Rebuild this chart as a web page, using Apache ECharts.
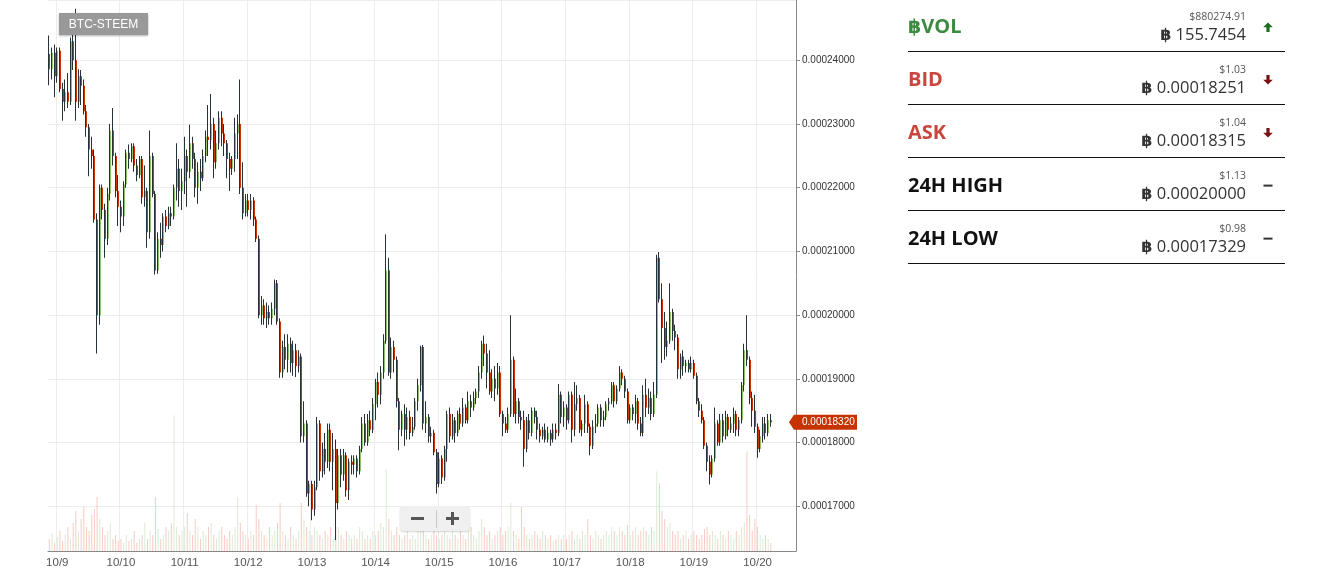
<!DOCTYPE html>
<html>
<head>
<meta charset="utf-8">
<script src="https://cdn.jsdelivr.net/npm/echarts@6/dist/echarts.min.js"></script>
<style>
html,body{margin:0;padding:0;background:#fff;width:1330px;height:570px;overflow:hidden;font-family:'Open Sans',sans-serif;}
#chart{position:absolute;left:0;top:0;width:1330px;height:570px;}
.pair{position:absolute;left:59px;top:13px;width:89px;height:22px;background:#999;color:#fff;font:12px 'Liberation Sans',Arial,sans-serif;line-height:22px;text-align:center;box-shadow:0 1px 2px rgba(0,0,0,0.3);}
.zoom{position:absolute;left:400px;top:506px;width:70px;height:25px;background:#f0f0f0;border-radius:4px;box-shadow:0 1px 2px rgba(0,0,0,0.18);}
.zoom .m{position:absolute;left:11px;top:11px;width:13px;height:3px;background:#555;}
.zoom .p1{position:absolute;left:46px;top:11px;width:13px;height:3px;background:#555;}
.zoom .p2{position:absolute;left:51px;top:6px;width:3px;height:13px;background:#555;}
.zoom .d{position:absolute;left:36px;top:4px;width:1px;height:18px;background:#c8c8c8;}
.sep{position:absolute;left:908px;width:377px;height:1px;background:#111;}
.lab{position:absolute;left:908px;height:28px;line-height:28px;font-size:20px;font-weight:700;white-space:nowrap;}
.usd{position:absolute;right:84px;height:14px;line-height:14px;font-size:10.5px;color:#555;white-space:nowrap;}
.btc{position:absolute;right:84px;height:22px;line-height:22px;font-size:16.5px;color:#333;white-space:nowrap;}
.sym{font-family:'DejaVu Sans',sans-serif;font-weight:700;}
.ico{position:absolute;left:1263px;width:10px;height:10px;}
</style>
</head>
<body>
<div id="chart"></div>
<div class="pair">BTC-STEEM</div>
<div class="zoom"><div class="m"></div><div class="d"></div><div class="p1"></div><div class="p2"></div></div>
<div id="panel"></div>
<script>
// Hourly candles from 10/8 21:00 to 10/20 05:00, prices in 1e-8 BTC: [open, close, low, high]
const candles = [
[24100,23860,23610,24390],[23860,24120,23700,24200],[24120,23750,23420,24250],
// 10/9
[23750,24150,23650,24200],[24150,23550,23500,24200],[23550,23350,23050,23650],[23350,23500,23200,23700],
[23500,23350,23250,23800],[23350,24300,23300,24360],[24300,24000,23850,24500],[24000,23350,23050,24810],
[23350,23750,23250,23860],[23750,23600,23300,23850],[23600,23200,23150,23700],[23200,22950,22800,23300],
[22950,22600,22180,23000],[22600,22500,22300,22800],[22500,21500,21450,22600],[21500,20000,19400,21600],
[20000,22000,19850,22050],[22000,21650,21500,22050],[21650,21200,20900,21750],[21200,21900,21100,22000],
[21900,22900,21800,23000],[22900,22500,22350,23250],[22500,21950,21850,22550],[21950,21700,21400,22200],
// 10/10
[21700,21550,21300,21800],[21550,22050,21400,22100],[22050,22550,22000,22600],[22550,22450,22300,22680],
[22450,22650,22400,22700],[22650,22350,22250,22700],[22350,22200,22100,22450],[22200,22450,22150,22500],
[22450,21850,21750,22500],[21850,21950,21700,22350],[21950,21300,21060,22000],[21300,22500,21200,22900],
[22500,21900,21850,22550],[21900,20700,20640,21950],[20700,21200,20650,21300],[21200,21100,20900,21450],
[21100,21550,21000,21600],[21550,21400,21300,21650],[21400,21600,21350,21700],[21600,21550,21400,21700],
[21550,22000,21500,22050],[22000,22300,21800,22700],[22300,21950,21700,22450],[21950,22100,21650,22300],
// 10/11
[22100,22500,21900,22800],[22500,22250,21700,22600],[22250,22700,22150,22990],[22700,22450,22300,22800],
[22450,22000,21850,22550],[22000,22250,21750,22400],[22250,22150,21950,22450],[22150,22500,22100,22600],
[22500,22800,22400,22900],[22800,22750,22500,23300],[22750,23000,22600,23470],[23000,22400,22150,23100],
[22400,22700,22300,22900],[22700,23100,22600,23200],[23100,22850,22650,23200],[22850,22700,22500,23000],
[22700,22450,22150,22750],[22450,22300,21950,22550],[22300,22450,22200,22500],[22450,22850,22250,23100],
[22850,23000,22450,23150],[23000,22000,21900,23700],[22000,21600,21500,22400],[21600,21800,21550,21900],
// 10/12
[21800,21650,21550,21900],[21650,21800,21500,21900],[21800,21500,21400,21850],[21500,21200,21150,21550],
[21200,20000,19950,21250],[20000,20150,19850,20300],[20150,19950,19850,20250],[19950,20050,19800,20200],
[20050,19950,19850,20150],[19950,20100,19850,20200],[20100,20500,20000,20560],[20500,19900,19850,20550],
[19900,19100,19016,19950],[19100,19500,19016,19600],[19500,19300,19150,19700],[19300,19550,19100,19700],
[19550,19250,19100,19650],[19250,19450,19050,19600],[19450,19200,19030,19550],[19200,19350,19100,19450],
[19350,18100,18000,19400],[18100,18300,18000,18650],[18300,17200,17150,18350],[17200,17350,17000,17400],
// 10/13
[17350,16950,16780,17400],[16950,17300,16850,17400],[17300,18300,17250,18400],[18300,17550,17400,18350],
[17550,17900,17450,18000],[17900,17700,17500,18150],[17700,18200,17600,18300],[18200,17700,17550,18300],
[17700,17900,17250,18150],[17900,17050,16470,18050],[17050,17800,16950,17900],[17800,17500,17300,17900],
[17500,17800,17400,17900],[17800,17250,17150,17850],[17250,17700,17100,17750],[17700,17650,17500,17800],
[17650,17750,17500,17800],[17750,17550,17450,17800],[17550,17900,17500,17950],[17900,18300,17850,18400],
[18300,18000,17950,18450],[18000,18350,17950,18450],[18350,18200,18100,18500],[18200,18600,18150,18700],
// 10/14
[18600,18950,18350,19000],[18950,18750,18550,19100],[18750,19100,18600,19200],[19100,19600,19000,19700],
[19600,20700,19550,21270],[20700,19100,19050,20900],[19100,19500,19000,19650],[19500,19300,19100,19600],
[19300,18650,18550,19350],[18650,18200,17880,18700],[18200,18450,18100,18500],[18450,18200,17950,18600],
[18200,18400,18050,18550],[18400,18150,18050,18500],[18150,18250,18100,18400],[18250,18650,18200,18700],
[18650,18900,18500,19000],[18900,19500,18800,19520],[19500,18300,18200,19530],[18300,18400,18150,18650],
[18400,18100,18000,18450],[18100,18150,18000,18250],[18150,17850,17800,18200],[17850,17350,17200,17900],
// 10/15
[17350,17750,17300,17850],[17750,17450,17350,17800],[17450,17900,17400,17950],[17900,18450,17700,18500],
[18450,18100,18000,18550],[18100,18350,18050,18450],[18350,18150,18000,18400],[18150,18450,18100,18500],
[18450,18300,18200,18550],[18300,18550,18250,18700],[18550,18350,18300,18600],[18350,18650,18300,18800],
[18650,18550,18400,18750],[18550,18700,18500,18800],[18700,18800,18600,18850],[18800,19100,18700,19200],
[19100,19550,19000,19600],[19550,19400,19200,19680],[19400,19100,18850,19550],[19100,18800,18750,19450],
[18800,19000,18700,19150],[19000,18850,18650,19200],[18850,19100,18750,19250],[19100,18450,18400,19200],
// 10/16
[18450,18300,18100,18500],[18300,18200,18150,18400],[18200,18450,18150,18550],[18450,19300,18400,20000],
[19300,18450,18400,19350],[18450,18650,18300,18850],[18650,18400,18300,18700],[18400,18350,18200,18500],
[18350,17900,17620,18500],[17900,18350,17850,18400],[18350,18150,18050,18450],[18150,18500,18100,18550],
[18500,18400,18300,18550],[18400,18200,18050,18500],[18200,18100,18000,18300],[18100,18200,18050,18250],
[18200,18050,18000,18300],[18050,18150,18000,18250],[18150,18050,17950,18200],[18050,18200,18000,18300],
[18200,18150,18050,18300],[18150,18750,18100,18920],[18750,18400,18300,18800],[18400,18550,18250,18650],
// 10/17
[18550,18350,18200,18600],[18350,18750,18300,18800],[18750,18200,18000,18800],[18200,18600,18100,18950],
[18600,18700,18500,18900],[18700,18200,18150,18750],[18200,18300,18100,18350],[18300,18600,18150,18750],
[18600,18250,18150,18650],[18250,17950,17800,18300],[17950,18250,17900,18350],[18250,18300,18150,18450],
[18300,18550,18250,18600],[18550,18350,18250,18600],[18350,18400,18250,18500],[18400,18600,18350,18650],
[18600,18650,18500,18700],[18650,18900,18600,18950],[18900,18650,18550,18950],[18650,18850,18600,18900],
[18850,19100,18800,19200],[19100,19000,18900,19150],[19000,18800,18700,19050],[18800,18350,18300,18850],
// 10/18
[18350,18550,18300,18600],[18550,18450,18350,18600],[18450,18650,18300,18750],[18650,18300,18200,18700],
[18300,18150,18100,18400],[18150,18750,18100,18900],[18750,18550,18400,19000],[18550,18700,18450,18850],
[18700,18450,18350,18800],[18450,18750,18400,18950],[18750,20900,18700,20950],[20900,20250,20200,20990],
[20250,19800,19250,20500],[19800,19500,19300,20050],[19500,19600,19350,19900],[19600,20050,19550,20500],
[20050,19750,19600,20100],[19750,19650,19450,19850],[19650,19150,19000,19700],[19150,19350,19000,19400],
[19350,19200,19050,19450],[19200,19250,19100,19300],[19250,19150,19100,19300],[19150,19250,19100,19350],
// 10/19
[19250,19050,19000,19300],[19050,18650,18600,19100],[18650,18500,18400,18700],[18500,18350,18300,18600],
[18350,17950,17900,18400],[17950,17700,17550,18000],[17700,17500,17340,17800],[17500,17750,17450,17800],
[17750,18300,17700,18550],[18300,18000,17950,18350],[18000,18350,17950,18450],[18350,18100,18000,18450],
[18100,18400,18050,18500],[18400,18200,18100,18450],[18200,18300,18150,18400],[18300,18450,18150,18550],
[18450,18200,18100,18500],[18200,18350,18100,18400],[18350,18900,18300,18950],[18900,19450,18800,19550],
[19450,19300,19200,20000],[19300,18700,18600,19350],[18700,18500,18250,18800],[18500,18250,18150,18750],
// 10/20
[18250,17900,17760,18300],[17900,18100,17850,18200],[18100,18300,18000,18400],[18300,18150,18050,18400],
[18150,18350,18100,18450],[18350,18320,18250,18450]
];
// Hourly volume (BTC), same order as candles
const volumes = [
3,4.5,2,
3.5,5,2.5,4,6,3,7,10,5,8,11,6,5,9,10.5,13.5,8,6,4,5,7,3,4,2.5,
3,2,4,2.5,3,5,2,3,4,7,3,5,4,13.5,5.5,3,4,6,5,7,34,6,4,5,
6,9.5,5,4,8,6,3,5,4,6,7,4,3,5,6,4,3,5,4,6,13.5,7,5,4,
3,5,4,11.5,8,5,4,3,6,4,5,7,12,5,4,3,6,4,3,5,12,8,6,5,
4,6,5,4,3,5,4,6,3,6,6,4,3,5,4,3,4,3,6,5,3,4,3,5,
4,5,7,6,20.5,8,5,4,6,4,3,4,5,3,4,3,5,6,7,4,3,4,5,4,
3,4,5,4,3,5,4,3,5,4,3,5,6,4,3,5,8,6,4,5,3,4,5,6,
4,5,6,12,5,4,3,11,6,4,3,4,5,4,3,5,4,3,4,2.5,3,4,3,4,
3,4,5,3,4,3,5,4,8,4,3,5,4,3,4,5,4,6,5,4,6,5,4,6.5,
4,5,6,4,5,6,5,4,6,5,20,17,10,8,6,7,5,4,5,3,4,5,3,4,
5,4,3,4,5.5,6,4,5,4,3,5,4,3,5,4,3,5,4,6,7,25,9,5,8,
6,4,3,4,3,2
];
const dayLabels = ['10/9','10/10','10/11','10/12','10/13','10/14','10/15','10/16','10/17','10/18','10/19','10/20'];
const hoursBeforeFirstDay = 3;   // first candle is 10/8 21:00
const emptyHoursAfter = 9;       // axis runs on past the last candle
const lastPrice = 18320;         // 1e-8 BTC
const priceMin = 0.00016298, priceMax = 0.00024947;
const stats = [
  {label:'฿VOL', color:'#3c8b40', usd:'$880274.91', btc:'155.7454', icon:'up'},
  {label:'BID', color:'#c8473d', usd:'$1.03', btc:'0.00018251', icon:'down'},
  {label:'ASK', color:'#c8473d', usd:'$1.04', btc:'0.00018315', icon:'down'},
  {label:'24H HIGH', color:'#111', usd:'$1.13', btc:'0.00020000', icon:'flat'},
  {label:'24H LOW', color:'#111', usd:'$0.98', btc:'0.00017329', icon:'flat'}
];

const UP = '#8cc16d', DOWN = '#cc3300', WICK = '#263238';
const VOL_UP = '#dcead4', VOL_DOWN = '#f6cbc2';
const S = 1e-8;

// right-hand panel
(function(){
  const p = document.getElementById('panel');
  let html = '';
  stats.forEach((s, i) => {
    const o = i * 53;
    html += `<div class="lab" style="top:${12+o}px;color:${s.color}">${s.label.replace('฿','<span class="sym" style="font-size:19px">฿</span>')}</div>`;
    html += `<div class="usd" style="top:${9+o}px">${s.usd}</div>`;
    html += `<div class="btc" style="top:${23+o}px"><span class="sym" style="font-size:16px">฿</span> ${s.btc}</div>`;
    let svg;
    if (s.icon === 'up') svg = `<svg class="ico" style="top:${22+o}px" viewBox="0 0 10 10"><polygon points="5,0.5 9.8,5.3 6.6,5.3 6.6,10 3.4,10 3.4,5.3 0.2,5.3" fill="#1b6e1b"/></svg>`;
    else if (s.icon === 'down') svg = `<svg class="ico" style="top:${22+o}px" viewBox="0 0 10 10"><polygon points="5,9.5 9.8,4.7 6.6,4.7 6.6,0 3.4,0 3.4,4.7 0.2,4.7" fill="#7a1214"/></svg>`;
    else svg = `<svg class="ico" style="top:${22+o}px" viewBox="0 0 10 10"><rect x="0.5" y="3.6" width="9" height="2" fill="#333"/></svg>`;
    html += svg;
    html += `<div class="sep" style="top:${51+o}px"></div>`;
  });
  p.innerHTML = html;
})();

const slotCount = candles.length + emptyHoursAfter;
const cats = [];
for (let i = 0; i < slotCount; i++) cats.push('s' + i);
const isDayStart = (idx) => (idx - hoursBeforeFirstDay) % 24 === 0 && idx >= hoursBeforeFirstDay;
const candleRows = candles.map((c, i) => [i, c[0]*S, c[1]*S, c[2]*S, c[3]*S]);
const volRows = volumes.map((v, i) => ({value: v, itemStyle: {color: candles[i][1] >= candles[i][0] ? VOL_UP : VOL_DOWN}}));

const chart = echarts.init(document.getElementById('chart'), null, {renderer: 'canvas'});
chart.setOption({
  animation: false,
  grid: {left: 48, right: 534, top: 0, bottom: 19, containLabel: false},
  xAxis: {
    type: 'category', data: cats, boundaryGap: true,
    axisLine: {show: true, lineStyle: {color: '#888', width: 1}},
    axisTick: {show: false},
    axisLabel: {
      color: '#555', fontSize: 11.5, margin: 6, fontFamily: 'Liberation Sans, Arial, sans-serif',
      interval: (idx) => isDayStart(idx),
      formatter: (v, idx) => isDayStart(idx) ? dayLabels[(idx - hoursBeforeFirstDay) / 24] : ''
    },
    splitLine: {show: true, interval: (idx) => isDayStart(idx), lineStyle: {color: '#ededed'}}
  },
  yAxis: [{
    type: 'value', position: 'right', min: priceMin, max: priceMax, splitNumber: 9,
    axisLine: {show: true, lineStyle: {color: '#888'}},
    axisTick: {show: true, length: 4, lineStyle: {color: '#888'}},
    axisLabel: {color: '#333', fontSize: 10, margin: 6, fontFamily: 'Liberation Sans, Arial, sans-serif',
      showMinLabel: false, showMaxLabel: false, formatter: (v) => v.toFixed(8)},
    splitLine: {show: true, lineStyle: {color: '#ededed'}}
  }, {
    type: 'value', min: 0, max: 138, show: false, splitLine: {show: false}
  }],
  series: [{
    type: 'bar', xAxisIndex: 0, yAxisIndex: 1, barWidth: 1, data: volRows, z: 1, silent: true
  }, {
    type: 'custom', xAxisIndex: 0, yAxisIndex: 0, z: 3, clip: true, silent: true,
    encode: {x: 0, y: [1, 2, 3, 4]},
    data: candleRows,
    renderItem: function (params, api) {
      const i = api.value(0), o = api.value(1), c = api.value(2), l = api.value(3), h = api.value(4);
      const po = api.coord([i, o]), pc = api.coord([i, c]), pl = api.coord([i, l]), ph = api.coord([i, h]);
      const x = Math.round(po[0]) - 1;
      const top = Math.min(po[1], pc[1]);
      const bh = Math.max(1, Math.abs(po[1] - pc[1]));
      return {type: 'group', children: [
        {type: 'rect', shape: {x: x, y: top, width: 2, height: bh}, style: {fill: c >= o ? UP : DOWN}},
        {type: 'rect', shape: {x: x, y: ph[1], width: 1, height: Math.max(1, pl[1] - ph[1])}, style: {fill: WICK}}
      ]};
    }
  }]
});

// current price tag on the price axis
const py = chart.convertToPixel({yAxisIndex: 0}, lastPrice * S);
const ax = chart.convertToPixel({xAxisIndex: 0}, slotCount - 1) + 1.3;
chart.setOption({graphic: [
  {type: 'polygon', z: 100, shape: {points: [[ax - 7, py], [ax - 2, py - 7.5], [ax + 61, py - 7.5], [ax + 61, py + 7.5], [ax - 2, py + 7.5]]}, style: {fill: '#c63300'}},
  {type: 'text', z: 101, x: ax + 6, y: py, style: {text: (lastPrice * S).toFixed(8), fill: '#fff', font: '10px Liberation Sans, Arial, sans-serif', textVerticalAlign: 'middle', verticalAlign: 'middle'}}
]});
</script>
</body>
</html>
